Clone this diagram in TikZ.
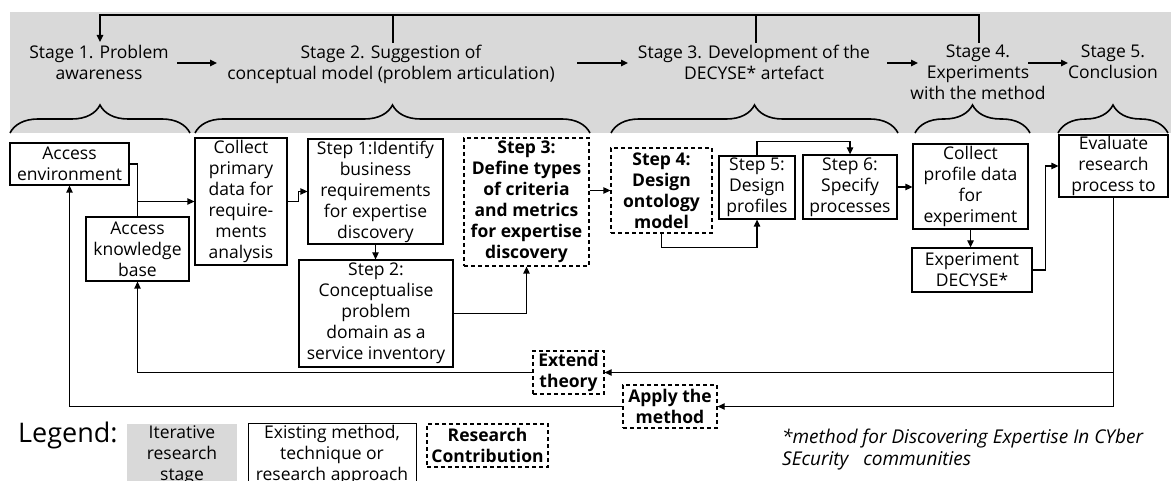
\documentclass[tikz,border=0pt]{standalone}
\usepackage{fontspec}
\setmainfont{Open Sans}
\usetikzlibrary{arrows.meta,decorations.pathreplacing,calc}
\definecolor{stagegray}{RGB}{217,217,217}
\begin{document}
\begin{tikzpicture}[x=1pt,y=-1pt,
  txt/.style={font=\fontsize{17.5}{21}\selectfont, align=center, inner sep=0pt},
  box/.style={txt, draw, line width=1.3pt},
  contrib/.style={box, dash pattern=on 4pt off 3pt, font=\fontsize{17.5}{21}\selectfont\bfseries},
  conn/.style={line width=1.3pt},
  arr/.style={conn, -{Triangle[length=7pt,width=6.5pt]}},
  stagebrace/.style={line width=1.6pt, decorate, decoration={brace, amplitude=28pt}},
]
\clip (0,0) rectangle (1171,481);

% iterative research stages band
\fill[stagegray] (10,12) rectangle (1171,133);

\node[txt, anchor=north] (st1) at (99,45) {Stage 1. Problem\\awareness};
\node[txt, anchor=north] (st2) at (391,45) {Stage 2. Suggestion of\\conceptual model (problem articulation)};
\node[txt, anchor=north] (st3) at (754,45) {Stage 3. Development of the\\DECYSE* artefact};
\node[txt, anchor=north] (st4) at (978,45) {Stage 4.\\Experiments\\with the method};
\node[txt, anchor=north] (st5) at (1113,45) {Stage 5.\\Conclusion};

% arrows between the stages
\coordinate (a12s) at (177,63);  \coordinate (a12e) at (217,63);
\coordinate (a23s) at (577,63);  \coordinate (a23e) at (628,63);
\coordinate (a34s) at (887,63);  \coordinate (a34e) at (918,63);
\coordinate (a45s) at (1028,63); \coordinate (a45e) at (1068,63);
\draw[arr] (a12s) -- (a12e);
\draw[arr] (a23s) -- (a23e);
\draw[arr] (a34s) -- (a34e);
\draw[arr] (a45s) -- (a45e);

% iteration loop back to stage 1
\coordinate (loopS4) at (979,43);
\coordinate (loopS1) at (100,42);
\coordinate (tickS2) at (393,43);
\coordinate (tickS3) at (756,43);
\draw[arr] (loopS4) |- (loopS1 |- 0,15) -- (loopS1);
\draw[conn] (tickS2) -- (tickS2 |- 0,15);
\draw[conn] (tickS3) -- (tickS3 |- 0,15);

% braces grouping the steps of each stage
\draw[stagebrace] (10,133) -- (190,133);
\draw[stagebrace] (195,133) -- (590,133);
\draw[stagebrace] (611,133) -- (898,133);
\draw[stagebrace] (915,133) -- (1030,133);
\draw[stagebrace] (1058,133) -- (1168,133);

% steps
\node[box, minimum width=119, minimum height=42] (env) at (69.5,164) {Access\\environment};
\node[box, minimum width=103, minimum height=64] (kb) at (137.5,249) {Access\\knowledge\\base};
\node[box, minimum width=92, minimum height=127] (cpd) at (241,201.5) {Collect\\primary\\data for\\require-\\ments\\analysis};
\node[box, minimum width=135, minimum height=105] (s1) at (375.5,191.5) {Step 1:Identify\\business\\requirements\\for expertise\\discovery};
\node[box, minimum width=154, minimum height=107] (s2) at (376,313.5) {Step 2:\\Conceptualise\\problem\\domain as a\\service inventory};
\node[contrib, minimum width=125, minimum height=128] (s3) at (526.5,202) {Step 3:\\Define types\\of criteria\\and metrics\\for expertise\\discovery};
\node[contrib, minimum width=101, minimum height=85] (s4) at (661.5,190.5) {Step 4:\\Design\\ontology\\model};
\node[box, minimum width=76, minimum height=63] (s5) at (757,187.5) {Step 5:\\Design\\profiles};
\node[box, minimum width=94, minimum height=64] (s6) at (850,187) {Step 6:\\Specify\\processes};
\node[box, minimum width=115, minimum height=85] (cpf) at (970.5,186.5) {Collect\\profile data\\for\\experiment};
\node[box, minimum width=120, minimum height=44] (exp) at (972,270) {Experiment\\DECYSE*};
\node[box, minimum width=109, minimum height=62] (eval) at (1113.5,166) {Evaluate\\research\\process to};
\node[contrib, minimum width=71, minimum height=43] (ext) at (568.5,372.5) {Extend\\theory};
\node[contrib, minimum width=94, minimum height=43] (apply) at (670,406.5) {Apply the\\method};

% flow between steps
\coordinate (join) at (kb.north |- cpd.west);
\draw[conn] (env.east) -| (join);
\draw[arr] (kb.north) -- (join) -- (cpd.west);
\draw[arr] (cpd.east) -- ++(11,0) |- (s1.west);
\draw[arr] (s1.south) -- (s1.south |- s2.north);
\draw[arr] (s2.east) -| (s3.south);
\draw[arr] (s3.east |- s4.west) -- (s4.west);
\draw[arr] (s4.south) -- ++(0,14) -| (s5.south);
\draw[arr] (s5.north) -- ++(0,-14) -| (s6.north);
\draw[arr] (s6.east) -- (s6.east -| cpf.west);
\draw[arr] (cpf.south) -- (cpf.south |- exp.north);
\draw[arr] (exp.east) -- ++(13,0) |- (eval.west);
\draw[arr] (eval.south) |- (apply.east);
\draw[arr] (eval.south |- ext.east) -- (ext.east);
\draw[arr] (ext.west) -| (kb.south);
\draw[arr] (apply.west) -| (env.south);

% legend
\node[anchor=west, inner sep=0pt, font=\fontsize{27}{32}\selectfont] (leg) at (18,435) {Legend:};
\node[txt, fill=stagegray, minimum width=110, minimum height=80, anchor=north west] (lgray) at (127,424) {};
\node[txt, anchor=north] (lgraytxt) at (182,425) {Iterative\\research\\stage};
\node[box, minimum width=168, minimum height=80, anchor=north west] (lbox) at (248,423) {};
\node[txt, anchor=north] (lboxtxt) at (332,425) {Existing method,\\technique or\\research approach};
\node[contrib, minimum width=121, minimum height=43] (lcon) at (487.5,445.5) {Research\\Contribution};

\node[anchor=north west, inner sep=0pt, align=left, font=\fontsize{19}{22}\selectfont\itshape] (note) at (782,429) {*method for Discovering Expertise In CYber\\SEcurity\ \ \ communities};
\end{tikzpicture}
\end{document}
